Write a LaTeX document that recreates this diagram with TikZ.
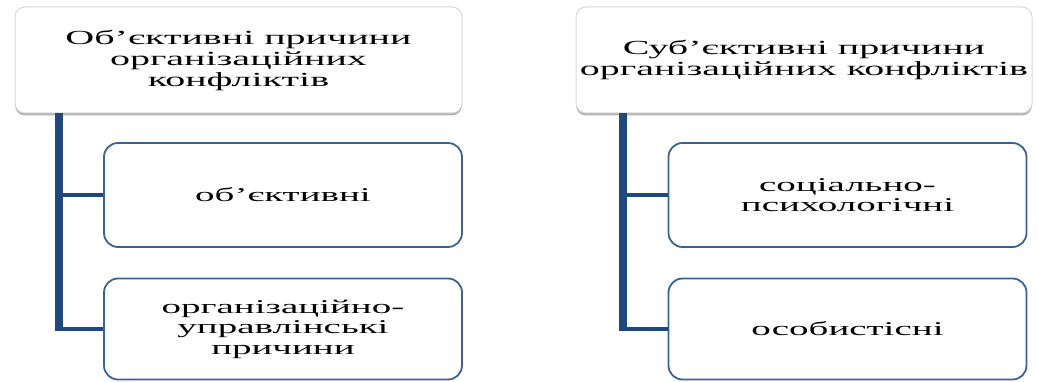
\documentclass[tikz,border=0pt]{standalone}
\usepackage{fontspec}
\setmainfont[FakeStretch=2.0]{Liberation Serif}
\usetikzlibrary{shadows}
\definecolor{barblue}{RGB}{31,73,125}
\definecolor{boxblue}{RGB}{60,98,146}
\tikzset{
	headbox/.style={draw=black!15, line width=1pt, fill=white, rounded corners=10pt,
		minimum height=106pt, align=center, font=\fontsize{20}{21}\selectfont,
		drop shadow={shadow xshift=0pt, shadow yshift=-2.5pt, fill=black!50, opacity=0.6}},
	subbox/.style={draw=boxblue, line width=1.8pt, fill=white, rounded corners=14pt,
		minimum width=358pt, align=center, font=\fontsize{19.5}{20.5}\selectfont},
	vbar/.style={draw=barblue, line width=7.5pt},
	hbar/.style={draw=barblue, line width=4pt}
}

\begin{document}
\begin{tikzpicture}
		%%%%% START %%%%%
		\useasboundingbox (0pt, 0pt) rectangle (1037pt, -382pt);
		
		% objective causes
		\node[headbox, minimum width=447pt] (objhead) at (238.5pt, -60pt)
			{Об’єктивні причини\\організаційних\\конфліктів};
		\node[subbox, minimum height=104pt] (objone) at (283pt, -195pt) {об’єктивні};
		\node[subbox, minimum height=101pt] (objtwo) at (283pt, -329pt)
			{організаційно-\\управлінські\\причини};
		
		\coordinate (objtop) at (59pt, -113pt);
		\draw[vbar] (objtop) -- ([yshift=-2pt]objtop |- objtwo.west);
		\draw[hbar] (objtop |- objone.west) -- (objone.west);
		\draw[hbar] (objtop |- objtwo.west) -- (objtwo.west);
		
		% subjective causes
		\node[headbox, minimum width=456pt] (subhead) at (804pt, -60pt)
			{Суб’єктивні причини\\організаційних конфліктів};
		\node[subbox, minimum height=104pt] (subone) at (847.5pt, -195pt)
			{соціально-\\психологічні};
		\node[subbox, minimum height=101pt] (subtwo) at (847.5pt, -329pt) {особистісні};
		
		\coordinate (subtop) at (623pt, -113pt);
		\draw[vbar] (subtop) -- ([yshift=-2pt]subtop |- subtwo.west);
		\draw[hbar] (subtop |- subone.west) -- (subone.west);
		\draw[hbar] (subtop |- subtwo.west) -- (subtwo.west);
		%%%%% END %%%%%
\end{tikzpicture}
\end{document}
